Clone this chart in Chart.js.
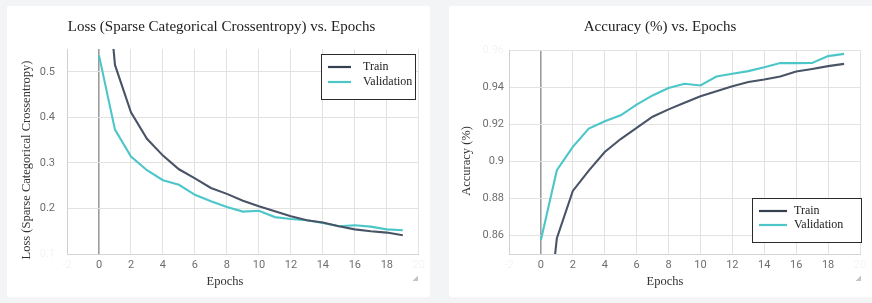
<!DOCTYPE html>
<html><head><meta charset="utf-8">
<script src="https://cdn.jsdelivr.net/npm/chart.js@4.4.0/dist/chart.umd.min.js"></script>
<style>
html,body{margin:0;padding:0;width:872px;height:303px;overflow:hidden;background:#f3f4f6;}
.card{position:absolute;background:#fff;border-radius:2px;}
#c1{left:7px;top:6px;width:423px;height:291px;}
#c2{left:449px;top:6px;width:425px;height:291px;}
canvas{display:block;}
.grip{position:absolute;width:6px;height:6px;background:linear-gradient(135deg,transparent 55%,#c4c4c4 55%);}
</style></head><body>
<div class="card" id="c1"><canvas id="lossChart" width="423" height="291"></canvas></div>
<div class="card" id="c2"><canvas id="accChart" width="425" height="291"></canvas></div>
<div class="grip" style="left:412px;top:275px"></div>
<div class="grip" style="left:855px;top:275px"></div>
<script>
// ---- data ----
const epochs = [0,1,2,3,4,5,6,7,8,9,10,11,12,13,14,15,16,17,18,19];
const trainLoss = [0.90,0.515,0.411,0.353,0.316,0.286,0.266,0.245,0.232,0.217,0.205,0.194,0.183,0.174,0.169,0.161,0.154,0.150,0.147,0.141];
const valLoss   = [0.536,0.373,0.314,0.284,0.262,0.252,0.230,0.216,0.203,0.193,0.195,0.181,0.177,0.174,0.168,0.161,0.163,0.160,0.154,0.152];
const trainAcc  = [0.78,0.8585,0.884,0.895,0.905,0.912,0.918,0.924,0.928,0.9316,0.935,0.9377,0.9405,0.9427,0.9441,0.9457,0.9484,0.9498,0.9513,0.9525];
const valAcc    = [0.8576,0.8952,0.9078,0.9176,0.9216,0.9248,0.9305,0.9355,0.9395,0.9418,0.9409,0.9457,0.9472,0.9486,0.9507,0.953,0.9529,0.953,0.9567,0.9579];
const xTicks = [-2,0,2,4,6,8,10,12,14,16,18,20];
const lossTicks = [0.1,0.2,0.3,0.4,0.5];
const accTicks = [0.86,0.88,0.9,0.92,0.94,0.96];
const seriesNames = ['Train','Validation'];

const TRAIN_COLOR = '#4a5467';
const VAL_COLOR = '#4cc6c8';
const FAINT = 'rgba(0,0,0,0.05)';
const TICK_COLOR = '#6e6e6e';
const SERIF = '"Liberation Serif","Times New Roman",serif';

const toPts = (ys) => epochs.map((e,i) => ({x:e, y:ys[i]}));

const overlay = {
  id: 'overlay',
  afterDraw(chart, args, o) {
    const ctx = chart.ctx;
    ctx.save();
    ctx.fillStyle = '#333';
    ctx.font = '12.5px ' + SERIF;
    ctx.textAlign = 'center';
    ctx.textBaseline = 'middle';
    ctx.fillText(o.xTitle, o.xTitleX, o.xTitleY);
    ctx.save();
    ctx.translate(o.yTitleX, o.yTitleY);
    ctx.rotate(-Math.PI/2);
    ctx.fillText(o.yTitle, 0, 0);
    ctx.restore();
    // legend box
    const L = o.legend;
    ctx.fillStyle = '#fff';
    ctx.fillRect(L.x, L.y, L.w, L.h);
    ctx.strokeStyle = '#2a2a2a';
    ctx.lineWidth = 1;
    ctx.strokeRect(L.x + 0.5, L.y + 0.5, L.w, L.h);
    ctx.font = '12px ' + SERIF;
    ctx.textAlign = 'left';
    chart.data.datasets.forEach((ds, i) => {
      const yy = L.rows[i];
      ctx.strokeStyle = i === 0 ? '#34404f' : ds.borderColor;
      ctx.lineWidth = 2.2;
      ctx.beginPath();
      ctx.moveTo(L.lx1, yy);
      ctx.lineTo(L.lx2, yy);
      ctx.stroke();
      ctx.fillStyle = '#222';
      ctx.fillText(ds.label, L.tx, yy);
    });
    ctx.restore();
  }
};

function makeChart(id, title, trainData, valData, yTicks, yMin, yMax, faintY, opts) {
  return new Chart(document.getElementById(id), {
    type: 'line',
    data: {
      datasets: [
        {label: seriesNames[0], data: toPts(trainData), borderColor: TRAIN_COLOR, borderWidth: 2.1, pointRadius: 0, tension: 0, fill: false},
        {label: seriesNames[1], data: toPts(valData), borderColor: VAL_COLOR, borderWidth: 2.1, pointRadius: 0, tension: 0, fill: false}
      ]
    },
    options: {
      responsive: false,
      animation: false,
      devicePixelRatio: 1,
      layout: {padding: {left: opts.padLeft, right: opts.padRight, top: 0, bottom: 0}},
      plugins: {
        legend: {display: false},
        tooltip: {enabled: false},
        title: {display: true, text: title, color: '#222', font: {family: SERIF, size: 15, weight: 'normal'}, padding: {top: 12, bottom: opts.titleBottom}},
        overlay: opts.overlay
      },
      scales: {
        x: {
          type: 'linear', min: -2, max: 20,
          afterBuildTicks: (s) => { s.ticks = xTicks.map(v => ({value: v})); },
          afterFit: (s) => { s.height = 43; },
          ticks: {
            color: (c) => (c.tick.value === -2 || c.tick.value === 20) ? FAINT : TICK_COLOR,
            font: {family: 'Roboto', size: 11}, padding: 5, maxRotation: 0, autoSkip: false
          },
          grid: {
            drawTicks: false,
            color: (c) => c.tick && c.tick.value === 0 ? '#9c9c9c' : '#e2e2e2',
            lineWidth: (c) => c.tick && c.tick.value === 0 ? 1.6 : 1
          },
          border: {display: true, color: '#d4d4d4'}
        },
        y: {
          type: 'linear', min: yMin, max: yMax,
          afterBuildTicks: (s) => { s.ticks = yTicks.map(v => ({value: v})); },
          afterFit: (s) => { s.width = 60 - opts.padLeft; },
          ticks: {
            color: (c) => c.tick.value === faintY ? FAINT : TICK_COLOR,
            font: {family: 'Roboto', size: 11}, padding: opts.yPad,
            callback: (v) => String(Math.round(v * 100) / 100)
          },
          grid: {drawTicks: false, color: '#e2e2e2'},
          border: {display: true, color: '#d0d0d0'}
        }
      }
    },
    plugins: [overlay]
  });
}

makeChart('lossChart', 'Loss (Sparse Categorical Crossentropy) vs. Epochs', trainLoss, valLoss, lossTicks, 0.1, 0.55, 0.1, {
  padLeft: 17, padRight: 11, titleBottom: 13, yPad: 12,
  overlay: {
    xTitle: 'Epochs', xTitleX: 218, xTitleY: 276,
    yTitle: 'Loss (Sparse Categorical Crossentropy)', yTitleX: 20, yTitleY: 154,
    legend: {x: 314, y: 48, w: 94, h: 45, lx1: 321, lx2: 344, tx: 356, rows: [61, 76]}
  }
});
makeChart('accChart', 'Accuracy (%) vs. Epochs', trainAcc, valAcc, accTicks, 0.85, 0.96, 0.96, {
  padLeft: 11, padRight: 14, titleBottom: 14, yPad: 5,
  overlay: {
    xTitle: 'Epochs', xTitleX: 216, xTitleY: 276,
    yTitle: 'Accuracy (%)', yTitleX: 18, yTitleY: 155,
    legend: {x: 303, y: 192, w: 109, h: 44, lx1: 310, lx2: 338, tx: 345, rows: [205, 219]}
  }
});
</script>
</body></html>
